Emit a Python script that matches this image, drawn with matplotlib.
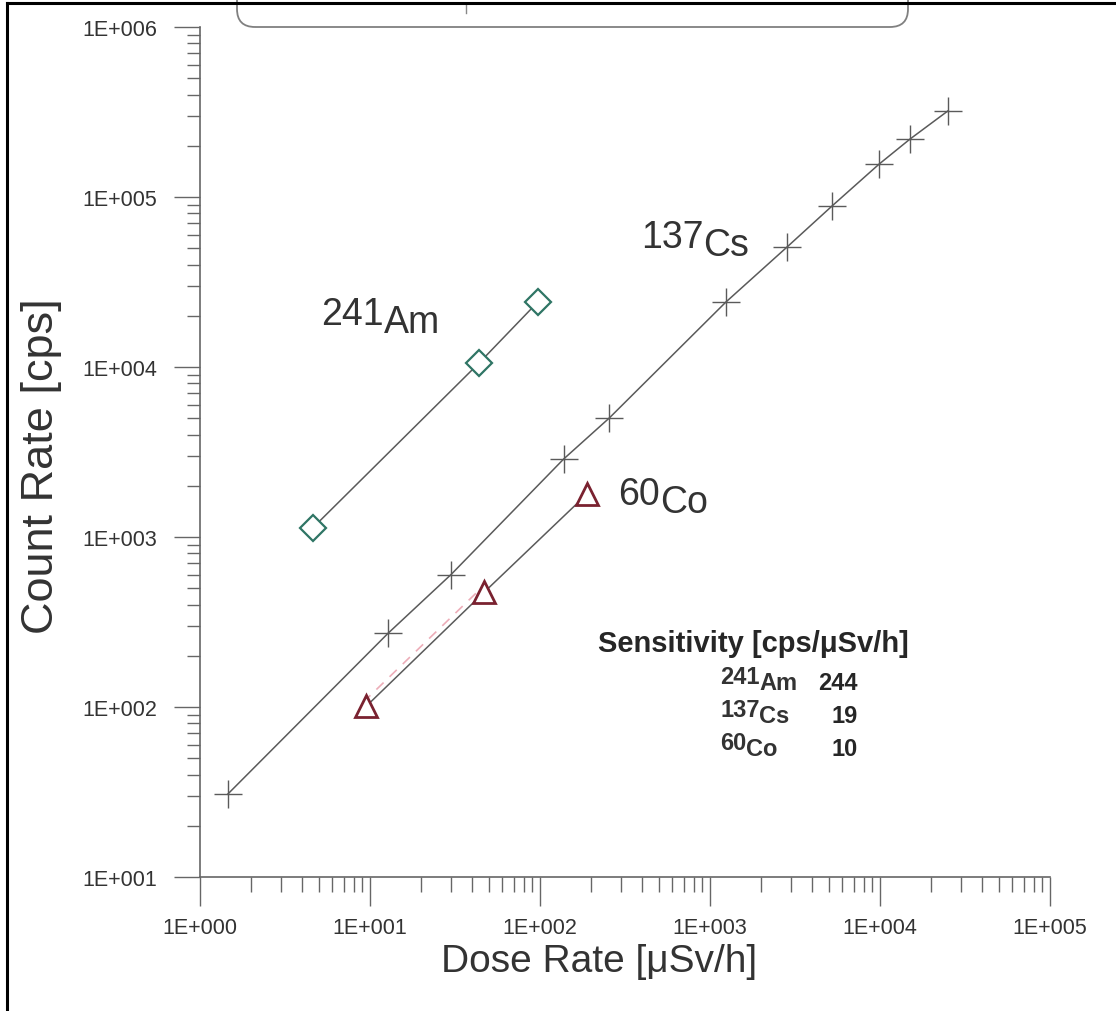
import numpy as np
import matplotlib
matplotlib.use("Agg")
import matplotlib.pyplot as plt
from matplotlib.patches import FancyBboxPatch
from matplotlib.lines import Line2D
from matplotlib.ticker import LogLocator, FuncFormatter, NullFormatter
from matplotlib.transforms import offset_copy

plt.rcParams['font.family'] = ['Liberation Sans', 'DejaVu Sans']

# データ (線量率 [uSv/h], 計数率 [cps])
am_dose = [4.6, 44, 97]
am_cps = [1130, 10600, 24100]

cs_dose = [1.46, 12.8, 29.9, 138, 255, 1240, 2840, 5220, 9870, 15000, 25100]
cs_cps = [30.8, 272, 600, 2880, 5000, 24100, 50800, 88500, 156000, 219000, 321000]

co_dose = [9.5, 47, 189]
co_cps = [101, 474, 1790]

# 感度の表
sens_iso = [("241", "Am"), ("137", "Cs"), ("60", "Co")]
sens_val = ["244", "19", "10"]

W, H = 1116, 1012
fig = plt.figure(figsize=(W / 100, H / 100), dpi=100)


def fx(px):
    return px / W


def fy(py):
    return 1 - py / H


ax = fig.add_axes([fx(200), fy(878), fx(1050) - fx(200), fy(28) - fy(878)])
ax.set_xscale('log')
ax.set_yscale('log')
ax.set_xlim(1, 1e5)
ax.set_ylim(10, 1e6)

grey = '#5a5a5a'
ax.plot(cs_dose, cs_cps, color=grey, lw=1.1, marker='+', ms=20, mew=1.0, zorder=3)
ax.plot(am_dose, am_cps, color=grey, lw=1.1, zorder=3)
ax.plot(am_dose, am_cps, ls='none', marker='D', ms=13, mfc='white', mec='#2f7565', mew=1.6, zorder=4)
ax.plot(co_dose, co_cps, color=grey, lw=1.1, zorder=3)
# 薄い赤の破線
tr = offset_copy(ax.transData, fig=fig, x=-3, y=4, units='dots')
ax.plot(co_dose[:2], co_cps[:2], color='#e58a9a', lw=1.2, ls=(0, (6, 5)), alpha=0.7, transform=tr, zorder=2)
ax.plot(co_dose, co_cps, ls='none', marker='^', ms=16, mfc='white', mec='#7a2230', mew=2.0, zorder=4)

# 軸
for s in ['top', 'right']:
    ax.spines[s].set_visible(False)
for s in ['left', 'bottom']:
    ax.spines[s].set_color('#666666')
    ax.spines[s].set_linewidth(1.2)

fmt = FuncFormatter(lambda v, p: "1E+%03d" % int(round(np.log10(v))))
for axis in [ax.xaxis, ax.yaxis]:
    axis.set_major_locator(LogLocator(base=10, numticks=10))
    axis.set_minor_locator(LogLocator(base=10, subs=np.arange(2, 10), numticks=10))
    axis.set_major_formatter(fmt)
    axis.set_minor_formatter(NullFormatter())

ax.tick_params(axis='x', which='major', direction='out', length=21, width=1, color='#666666',
               labelsize=15.5, labelcolor='#333333', pad=8)
ax.tick_params(axis='x', which='minor', direction='out', length=11, width=1, color='#666666')
ax.tick_params(axis='y', which='major', direction='out', length=19, width=1, color='#666666',
               labelsize=15.5, labelcolor='#333333', pad=12)
ax.tick_params(axis='y', which='minor', direction='out', length=9.5, width=1, color='#666666')

fig.text(fx(599), fy(962), "Dose Rate [\u03bcSv/h]", fontsize=28, color='#333333', ha='center', va='center')
fig.text(fx(42), fy(466), "Count Rate [cps]", fontsize=32.5, color='#333333', ha='center', va='center',
         rotation=90)


def iso_label(x, y, mass, sym, size, drop, weight='normal'):
    t = fig.text(fx(x), fy(y), mass, fontsize=size, color='#333333', ha='left', va='baseline',
                 fontweight=weight)
    a = ax.annotate(sym, xy=(1, 0), xycoords=t, xytext=(0, -drop), textcoords='offset points',
                    fontsize=size, color='#333333', ha='left', va='bottom', fontweight=weight,
                    annotation_clip=False)
    return a


iso_label(321, 325, "241", "Am", 27, 6)
iso_label(641, 248, "137", "Cs", 27, 6)
iso_label(618, 505, "60", "Co", 27, 6)

# 感度
fig.text(fx(598), fy(652), "Sensitivity [cps/\u03bcSv/h]", fontsize=21, fontweight='bold',
         color='#262626', ha='left', va='baseline')
row_y = [690, 723, 756]
for (mass, sym), val, yy in zip(sens_iso, sens_val, row_y):
    iso_label(720, yy - 6, mass, sym, 17, 4.5, weight='bold')
    fig.text(fx(858), fy(yy), val, fontsize=17, fontweight='bold', color='#262626',
             ha='right', va='baseline')

# 上の枠 (切れている)
box = FancyBboxPatch((2.37, 10.12 - 0.28), 9.08 - 2.37, 1.0,
                     boxstyle="round,pad=0,rounding_size=0.18",
                     transform=fig.dpi_scale_trans, fc='none', ec='#808080', lw=1.3)
fig.add_artist(box)
fig.add_artist(Line2D([fx(466), fx(466)], [fy(4), fy(14)], color='#888888', lw=1))

# 外枠
fig.add_artist(Line2D([fx(7), 1], [fy(4), fy(4)], color='black', lw=2.2))
fig.add_artist(Line2D([fx(7), fx(7)], [fy(4), 0], color='black', lw=2.2))

fig.savefig("out.png", dpi=100)
